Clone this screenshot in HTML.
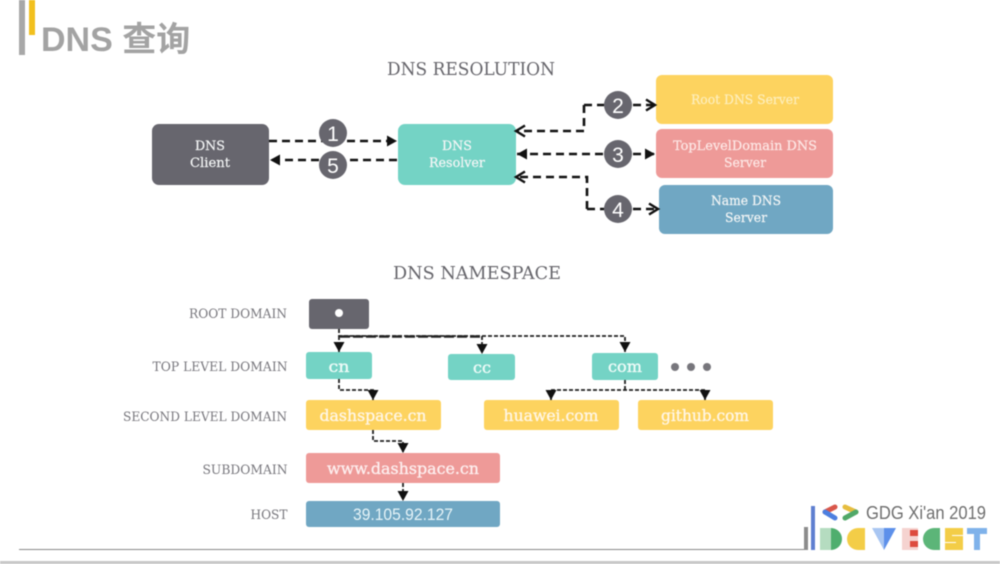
<!DOCTYPE html>
<html><head><meta charset="utf-8"><style>
html,body{margin:0;padding:0;background:#fff;width:1000px;height:564px;overflow:hidden}
svg{display:block;filter:blur(.45px)}
text{font-family:"DejaVu Serif","Liberation Serif",serif;text-anchor:middle}
.w{fill:#f4f6f6;font-size:13px;stroke:#f4f6f6;stroke-width:.2}
.l{fill:#77767c;font-size:13px}
.h{fill:#66656b;font-size:18px}
.big{fill:#fff6e6;font-size:16px;stroke:#fff6e6;stroke-width:.35}
.d{fill:none;stroke:#111;stroke-width:2.6;stroke-dasharray:8 5}
.s{fill:none;stroke:#222;stroke-width:1.8;stroke-dasharray:4 2}
.n{fill:#fff;font:21px "Liberation Sans",sans-serif;text-anchor:middle}
</style></head><body>
<svg width="1000" height="564" viewBox="0 0 1000 564" xmlns="http://www.w3.org/2000/svg">
<defs>
<marker id="o" markerWidth="14" markerHeight="14" refX="11" refY="7" orient="auto" markerUnits="userSpaceOnUse"><path d="M2 1.5L11 7L2 12.5" fill="none" stroke="#111" stroke-width="2.4"/></marker>
<marker id="f" markerWidth="14" markerHeight="14" refX="11" refY="7" orient="auto" markerUnits="userSpaceOnUse"><path d="M1 1.5L11 7L1 12.5Z" fill="#111"/></marker>
</defs>
<rect x="19" y="0" width="6" height="55" fill="#a8a8a8"/>
<rect x="29" y="0" width="6" height="35" fill="#f2c01e"/>
<text x="41" y="51" style="font:bold 34px 'Liberation Sans','Noto Sans CJK SC',sans-serif;text-anchor:start;fill:#a3a3a3">DNS 查询</text>
<text class="h" x="471" y="75" textLength="168" lengthAdjust="spacingAndGlyphs">DNS RESOLUTION</text>
<text class="h" x="477" y="279" textLength="168" lengthAdjust="spacingAndGlyphs">DNS NAMESPACE</text>

<rect x="152" y="124" width="117" height="61" rx="7" fill="#67666e"/>
<text class="w" x="210" y="150" textLength="30" lengthAdjust="spacingAndGlyphs">DNS</text>
<text class="w" x="210" y="167" textLength="40" lengthAdjust="spacingAndGlyphs">Client</text>
<rect x="398" y="124" width="118" height="61" rx="7" fill="#74d3c5"/>
<text class="w" x="457" y="150" textLength="30" lengthAdjust="spacingAndGlyphs">DNS</text>
<text class="w" x="457" y="167" textLength="56" lengthAdjust="spacingAndGlyphs">Resolver</text>
<rect x="656" y="75" width="177" height="49" rx="6" fill="#fdd35f"/>
<text class="w" x="745" y="104" textLength="108" lengthAdjust="spacingAndGlyphs" style="fill:#fdeebc;stroke:#fdeebc">Root DNS Server</text>
<rect x="656" y="129" width="177" height="49" rx="6" fill="#ee9a98"/>
<text class="w" x="745" y="150" textLength="144" lengthAdjust="spacingAndGlyphs" style="fill:#fde8e6;stroke:#fde8e6">TopLevelDomain DNS</text>
<text class="w" x="745" y="167" textLength="42" lengthAdjust="spacingAndGlyphs" style="fill:#fde8e6;stroke:#fde8e6">Server</text>
<rect x="659" y="185" width="174" height="49" rx="6" fill="#70a7c3"/>
<text class="w" x="746" y="205" textLength="70" lengthAdjust="spacingAndGlyphs">Name DNS</text>
<text class="w" x="746" y="222" textLength="42" lengthAdjust="spacingAndGlyphs">Server</text>

<path class="d" d="M269 141H397" marker-end="url(#f)"/>
<path class="d" d="M397 160H270" marker-end="url(#f)"/>
<path class="d" d="M584 105V131H516" marker-end="url(#o)"/>
<path class="d" d="M584 105H604"/>
<path class="d" d="M633 105H655" marker-end="url(#o)"/>
<path class="d" d="M603 154H517" marker-end="url(#f)"/>
<path class="d" d="M633 154H655" marker-end="url(#f)"/>
<path class="d" d="M587 209V177H516" marker-end="url(#o)"/>
<path class="d" d="M587 209H604"/>
<path class="d" d="M633 209H658" marker-end="url(#o)"/>
<g fill="#67666e">
<circle cx="333" cy="133" r="14"/><circle cx="333" cy="165" r="14"/>
<circle cx="618" cy="105" r="14"/><circle cx="618" cy="154" r="14"/><circle cx="618" cy="209" r="14"/>
</g>
<text class="n" x="333" y="141">1</text><text class="n" x="333" y="173">5</text>
<text class="n" x="618" y="113">2</text><text class="n" x="618" y="162">3</text><text class="n" x="618" y="217">4</text>

<g>
<text class="l" x="238" y="318" textLength="98" lengthAdjust="spacingAndGlyphs">ROOT DOMAIN</text>
<text class="l" x="220" y="371" textLength="135" lengthAdjust="spacingAndGlyphs">TOP LEVEL DOMAIN</text>
<text class="l" x="205" y="421" textLength="164" lengthAdjust="spacingAndGlyphs">SECOND LEVEL DOMAIN</text>
<text class="l" x="245" y="474" textLength="85" lengthAdjust="spacingAndGlyphs">SUBDOMAIN</text>
<text class="l" x="269" y="519" textLength="37" lengthAdjust="spacingAndGlyphs">HOST</text>
</g>

<rect x="309" y="299" width="60" height="30" rx="3" fill="#67666e"/>
<circle cx="339" cy="313" r="4" fill="#fff"/>
<rect x="306" y="352" width="66" height="27" rx="3" fill="#74d3c5"/>
<text class="big" x="339" y="372" style="fill:#eefbf8;stroke:#eefbf8" textLength="21" lengthAdjust="spacingAndGlyphs">cn</text>
<rect x="448" y="354" width="67" height="26" rx="3" fill="#74d3c5"/>
<text class="big" x="482" y="373" style="fill:#eefbf8;stroke:#eefbf8" textLength="18" lengthAdjust="spacingAndGlyphs">cc</text>
<rect x="592" y="353" width="66" height="27" rx="3" fill="#74d3c5"/>
<text class="big" x="625" y="372" style="fill:#eefbf8;stroke:#eefbf8" textLength="34" lengthAdjust="spacingAndGlyphs">com</text>
<circle cx="675" cy="367" r="4" fill="#77767c"/><circle cx="691" cy="367" r="4" fill="#77767c"/><circle cx="707" cy="367" r="4" fill="#77767c"/>
<rect x="306" y="400" width="135" height="30" rx="3" fill="#fdd35f"/>
<text class="big" x="373" y="421" textLength="107" lengthAdjust="spacingAndGlyphs">dashspace.cn</text>
<rect x="484" y="400" width="135" height="30" rx="3" fill="#fdd35f"/>
<text class="big" x="551" y="421" textLength="95" lengthAdjust="spacingAndGlyphs">huawei.com</text>
<rect x="638" y="400" width="135" height="30" rx="3" fill="#fdd35f"/>
<text class="big" x="705" y="421" textLength="88" lengthAdjust="spacingAndGlyphs">github.com</text>
<rect x="306" y="453" width="194" height="30" rx="3" fill="#ee9a98"/>
<text class="big" x="403" y="474" style="fill:#fdeeee;stroke:#fdeeee" textLength="152" lengthAdjust="spacingAndGlyphs">www.dashspace.cn</text>
<rect x="306" y="501" width="194" height="26" rx="3" fill="#70a7c3"/>
<text x="403" y="520" style="font:17px 'Liberation Sans',sans-serif;fill:#e6f4f8" textLength="100" lengthAdjust="spacingAndGlyphs">39.105.92.127</text>

<path class="s" d="M339 329V336H625V352" marker-end="url(#f)"/>
<path class="s" d="M339 336V352" marker-end="url(#f)"/>
<path class="s" d="M482 336V354" marker-end="url(#f)"/>
<path d="M340 336.500H481" fill="none" stroke="#222" stroke-width="2.4" stroke-dasharray="10 3"/>
<path class="s" d="M339 379V390H373V400" marker-end="url(#f)"/>
<path class="s" d="M625 380V390"/>
<path class="s" d="M551 390H705V400" marker-end="url(#f)"/>
<path class="s" d="M551 390V400" marker-end="url(#f)"/>
<path class="s" d="M373 430V441H403V453" marker-end="url(#f)"/>
<path class="s" d="M403 483V501" marker-end="url(#f)"/>

<rect x="19" y="549" width="786" height="1" fill="#8a8a8a"/>
<rect x="804" y="527" width="4" height="23" fill="#8c8c8c"/>
<rect x="811" y="506" width="4" height="44" fill="#5f7fd0"/>
<path d="M835 507L825 512" fill="none" stroke="#d9574b" stroke-width="5" stroke-linecap="round"/>
<path d="M825 512L835 518" fill="none" stroke="#4c7fe0" stroke-width="5" stroke-linecap="round"/>
<path d="M845 507L856 512" fill="none" stroke="#e6bd3f" stroke-width="5" stroke-linecap="round"/>
<path d="M856 512L845 518" fill="none" stroke="#50a868" stroke-width="5" stroke-linecap="round"/>
<text x="866" y="519" style="font:18px 'Liberation Sans',sans-serif;text-anchor:start;fill:#6e6e6e" textLength="120" lengthAdjust="spacingAndGlyphs">GDG Xi'an 2019</text>
<rect x="820" y="528" width="11" height="22" fill="#b5dcc0"/>
<path d="M831 528A11 11 0 0 1 831 550Z" fill="#4fae6e"/>
<path d="M858 528H865V550H858A11 11 0 0 1 858 528Z" fill="#f3cd47"/>
<path d="M872 528H884L884 550Z" fill="#a9c6f2"/>
<path d="M884 528H896L884 550Z" fill="#5d90ea"/>
<rect x="902" y="528" width="16" height="22" fill="#f5d3d0"/>
<rect x="910" y="530" width="8" height="6" fill="#dd4b3e"/><rect x="910" y="541" width="8" height="6" fill="#dd4b3e"/>
<path d="M934 528H940V550H934A11 11 0 0 1 934 528Z" fill="#5cb578"/>
<path d="M945 528H963V535H952V536H963V550H945V543H956V542H945Z" fill="#f3cd47"/>
<path d="M967 528H987V534H980V550H974V534H967Z" fill="#7fb2ea"/>
<rect x="0" y="561" width="1000" height="3" fill="#c8c8c8"/>
</svg>
</body></html>
